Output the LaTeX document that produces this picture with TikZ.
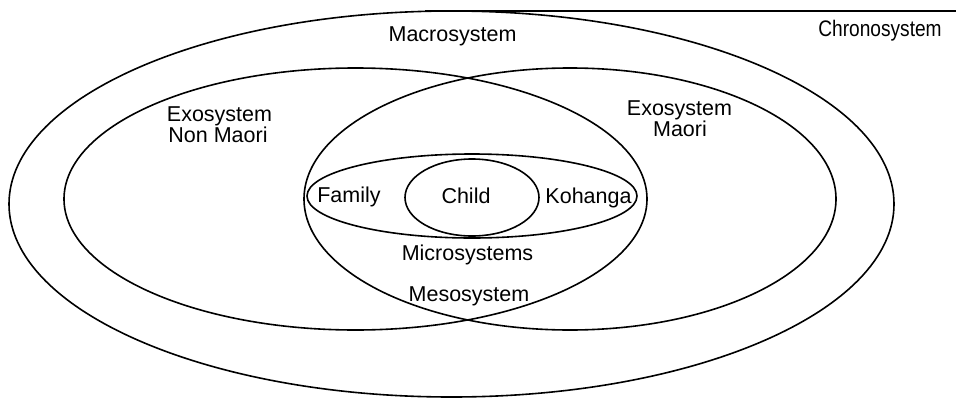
\documentclass[tikz,border=0pt]{standalone}
\usepackage{fontspec}
\setmainfont{Liberation Sans}
\begin{document}
\begin{tikzpicture}[x=1pt,y=-1pt,
  ring/.style={draw=black,line width=1.6pt},
  lbl/.style={anchor=base,inner sep=0pt,font=\fontsize{21.5}{22}\selectfont}]
\useasboundingbox (0,0) rectangle (956,399);
% Macrosystem
\draw[ring] (451.5,204) ellipse [x radius=442.5pt, y radius=193pt];
% Chronosystem line
\coordinate (chA) at (425,10.8);
\coordinate (chB) at (956,10.8);
\draw[ring] (chA) -- (chB);
% Exosystems
\draw[ring] (355.5,199) ellipse [x radius=291.5pt, y radius=131pt];
\draw[ring] (570,199) ellipse [x radius=266pt, y radius=131pt];
% Microsystems
\draw[ring] (472,196) ellipse [x radius=165pt, y radius=42pt];
% Child
\draw[ring] (472,197.5) ellipse [x radius=67pt, y radius=38.5pt];
% Labels
\node[lbl] (macro) at (452.5,41.5) {Macrosystem};
\node[lbl] (chrono) at (880,36.5) {\fontsize{22.5}{24}\selectfont\scalebox{0.85}[1]{Chronosystem}};
\node[lbl] (exoL1) at (219.5,121) {Exosystem};
\node[lbl] (exoL2) at (218,142.5) {Non Maori};
\node[lbl] (exoR1) at (679.5,115) {Exosystem};
\node[lbl] (exoR2) at (680,136.5) {Maori};
\node[lbl] (family) at (349,202) {Family};
\node[lbl] (child) at (466,203) {Child};
\node[lbl] (kohanga) at (588.5,203) {Kohanga};
\node[lbl] (micro) at (467.5,260) {Microsystems};
\node[lbl] (meso) at (469,301) {Mesosystem};
\end{tikzpicture}
\end{document}
